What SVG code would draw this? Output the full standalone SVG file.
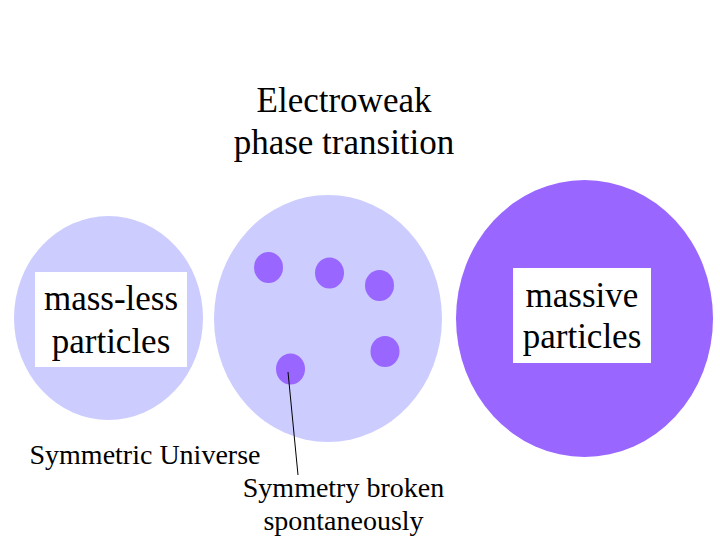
<svg xmlns="http://www.w3.org/2000/svg" width="720" height="540" viewBox="0 0 720 540">
<style>
text{font-family:'Liberation Serif','DejaVu Serif',serif;fill:#000;text-anchor:middle}
.big{font-size:35px}
.small{font-size:28px}
.light{fill:#ccccff}
.dark{fill:#9966ff}
.box{fill:#ffffff}
.conn{stroke:#000;stroke-width:1;fill:none}
</style>
<rect width="720" height="540" fill="#ffffff"/>
<g id="title">
<text class="big" x="344" y="112" font-family="Liberation Serif, serif">Electroweak</text>
<text class="big" x="344" y="154" font-family="Liberation Serif, serif">phase transition</text>
</g>
<g id="symmetric">
<ellipse class="light" cx="108.5" cy="318" rx="94.5" ry="102"/>
<rect class="box" x="35" y="272" width="152" height="95"/>
<text class="big" x="111" y="310">mass-less</text>
<text class="big" x="111" y="353">particles</text>
</g>
<g id="transition">
<ellipse class="light" cx="328" cy="318.5" rx="114" ry="123.5"/>
<ellipse class="dark" cx="268.5" cy="267.5" rx="14.5" ry="15.5"/>
<ellipse class="dark" cx="329.5" cy="273" rx="14.5" ry="15.5"/>
<ellipse class="dark" cx="379.5" cy="285.5" rx="14.5" ry="15.5"/>
<ellipse class="dark" cx="385" cy="351.5" rx="14.5" ry="15.5"/>
<ellipse class="dark" cx="290.5" cy="369" rx="14.5" ry="15.5"/>
</g>
<g id="broken">
<ellipse class="dark" cx="584.5" cy="318.5" rx="128.5" ry="138.5"/>
<rect class="box" x="513" y="268" width="138" height="95"/>
<text class="big" x="582" y="307">massive</text>
<text class="big" x="582" y="348">particles</text>
</g>
<g id="label-symmetric">
<text class="small" x="145" y="464">Symmetric Universe</text>
</g>
<g id="label-broken">
<text class="small" x="343.5" y="497">Symmetry broken</text>
<text class="small" x="343.5" y="530">spontaneously</text>
</g>
<g id="connectors">
<line class="conn" x1="288" y1="372" x2="298" y2="475"/>
</g>
</svg>
